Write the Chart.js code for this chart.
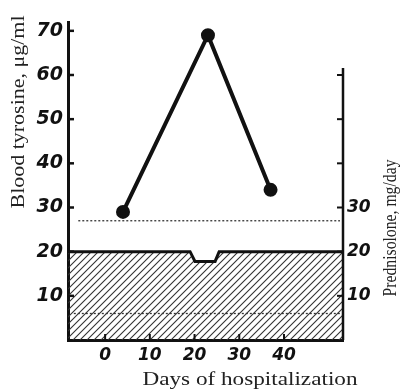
<!DOCTYPE html>
<html><head><meta charset="utf-8">
<script src="https://cdn.jsdelivr.net/npm/chart.js@4"></script>
<style>html,body{margin:0;padding:0;background:#fff}#wrap{width:401px;height:389px}</style>
</head><body><div id="wrap"><canvas id="c" width="401" height="389"></canvas></div>
<script>
// ---- data ----
const tyrosineDays = [4, 23, 37];
const tyrosine = [29, 69, 34];
const predDays = [-8.3, 19.0, 20.1, 24.6, 25.5, 53.2];
const predDose = [20, 20, 17.8, 17.8, 20, 20];
const upperNormDays = [-6, 52.5];
const upperNorm = [27, 27];
const lowerNormDays = [-7, 52.5];
const lowerNorm = [6, 6];
const xTicks = [0, 10, 20, 30, 40];
const yTicks = [10, 20, 30, 40, 50, 60, 70];
const y2Labeled = [10, 20, 30];
const y2Ticks = [10, 20, 30, 40, 50, 60];
const y2Top = 61.6;

const xTitle = 'Days of hospitalization';
const yTitle = 'Blood tyrosine, μg/ml';
const y2Title = 'Prednisolone, mg/day';

function toPts(xs, ys){ return xs.map((x,i)=>({x:x, y:ys[i]})); }

// hatch pattern
function hatch(){
  const s = 7, c = document.createElement('canvas'); c.width = s; c.height = s;
  const g = c.getContext('2d');
  g.strokeStyle = '#333'; g.lineWidth = 1.1;
  g.beginPath();
  g.moveTo(-1, s+1); g.lineTo(s+1, -1);
  g.moveTo(-1, 1); g.lineTo(1, -1);
  g.moveTo(s-1, s+1); g.lineTo(s+1, s-1);
  g.stroke();
  return document.getElementById('c').getContext('2d').createPattern(c, 'repeat');
}

const ink = '#111';
const tickFont = (size) => ({ family: 'DejaVu Sans', style: 'italic', weight: 'bold', size: size });

const decor = {
  id: 'decor',
  afterDatasetsDraw(chart){
    const ctx = chart.ctx, x = chart.scales.x, y = chart.scales.y, y2 = chart.scales.y2;
    const a = chart.chartArea;
    ctx.save();
    ctx.strokeStyle = ink; ctx.lineCap = 'butt';
    // right axis line (partial)
    ctx.lineWidth = 2.5;
    ctx.beginPath(); ctx.moveTo(a.right, y2.getPixelForValue(0)); ctx.lineTo(a.right, y2.getPixelForValue(y2Top)); ctx.stroke();
    // left inward ticks
    ctx.lineWidth = 2.5;
    yTicks.forEach(v=>{ const p = y.getPixelForValue(v); ctx.beginPath(); ctx.moveTo(a.left, p); ctx.lineTo(a.left+6, p); ctx.stroke(); });
    // right inward ticks
    ctx.lineWidth = 2;
    y2Ticks.forEach(v=>{ const p = y2.getPixelForValue(v); ctx.beginPath(); ctx.moveTo(a.right, p); ctx.lineTo(a.right-6, p); ctx.stroke(); });
    // bottom inward ticks
    ctx.lineWidth = 2;
    xTicks.forEach(v=>{ const p = x.getPixelForValue(v); ctx.beginPath(); ctx.moveTo(p, a.bottom); ctx.lineTo(p, a.bottom-6); ctx.stroke(); });
    ctx.restore();
  },
  afterDraw(chart){
    const ctx = chart.ctx;
    function txt(s, cx, cy, rot, font, w){
      ctx.save();
      ctx.translate(cx, cy); if (rot) ctx.rotate(rot);
      ctx.font = font; ctx.fillStyle = '#222'; ctx.textAlign = 'center'; ctx.textBaseline = 'middle';
      const m = ctx.measureText(s).width; ctx.scale(w/m, 1);
      ctx.fillText(s, 0, 0);
      ctx.restore();
    }
    txt(yTitle, 19, 112, -Math.PI/2, '18px "Liberation Serif"', 193);
    txt(y2Title, 391, 228, -Math.PI/2, '18px "Liberation Serif"', 137);
    txt(xTitle, 250, 380, 0, '19px "Liberation Serif"', 215);
  }
};

new Chart(document.getElementById('c'), {
  type: 'line',
  data: {
    datasets: [
      { data: toPts(predDays, predDose), borderColor: ink, borderWidth: 3, pointRadius: 0, fill: 'origin', backgroundColor: hatch(), yAxisID: 'y2', tension: 0, order: 3 },
      { data: toPts(upperNormDays, upperNorm), borderColor: '#333', borderWidth: 1.3, borderDash: [2, 2], pointRadius: 0, fill: false, yAxisID: 'y', order: 2 },
      { data: toPts(lowerNormDays, lowerNorm), borderColor: '#333', borderWidth: 1.3, borderDash: [2, 2], pointRadius: 0, fill: false, yAxisID: 'y', order: 2 },
      { data: toPts(tyrosineDays, tyrosine), borderColor: ink, borderWidth: 4, pointRadius: 5, pointBackgroundColor: ink, pointBorderColor: ink, fill: false, yAxisID: 'y', tension: 0, order: 1 }
    ]
  },
  options: {
    responsive: false, animation: false,
    layout: { padding: { top: 22, left: 0, right: 0, bottom: 0 } },
    plugins: { legend: { display: false }, tooltip: { enabled: false } },
    scales: {
      x: {
        type: 'linear', min: -8.3, max: 53.2,
        afterBuildTicks: s => { s.ticks = xTicks.map(v=>({value:v})); },
        afterFit: s => { s.height = 49; },
        grid: { display: false, drawTicks: false },
        border: { display: true, color: ink, width: 3 },
        ticks: { padding: 5, color: ink, font: tickFont(17), maxRotation: 0 }
      },
      y: {
        position: 'left', min: 0, max: 72,
        afterBuildTicks: s => { s.ticks = yTicks.map(v=>({value:v})); },
        afterFit: s => { s.width = 68; },
        grid: { display: false, drawTicks: false },
        border: { display: true, color: ink, width: 3 },
        ticks: { padding: 5, color: ink, font: tickFont(19) }
      },
      y2: {
        position: 'right', min: 0, max: 72,
        afterBuildTicks: s => { s.ticks = y2Labeled.map(v=>({value:v})); },
        afterFit: s => { s.width = 58; },
        grid: { display: false, drawTicks: false },
        border: { display: false },
        ticks: { padding: 4, color: ink, font: tickFont(17) }
      }
    }
  },
  plugins: [decor]
});
</script>
</body></html>
